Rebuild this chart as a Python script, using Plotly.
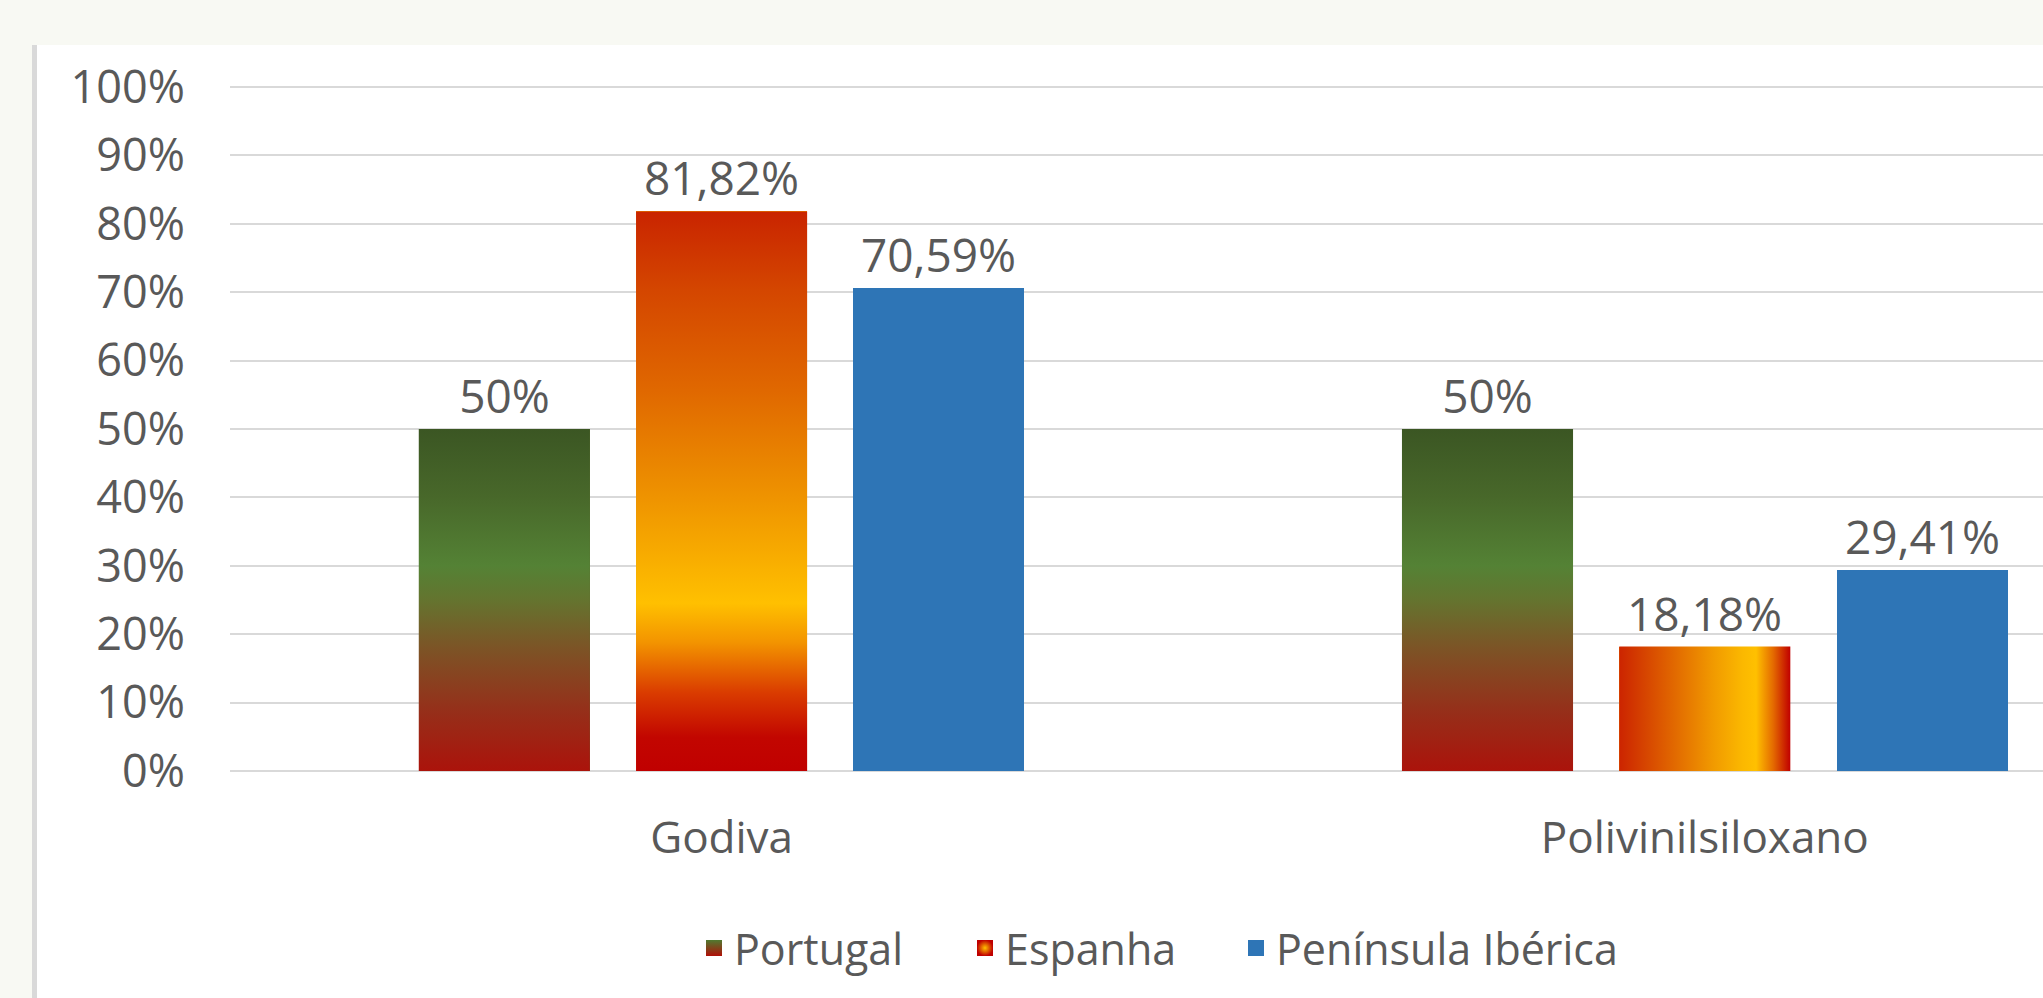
import plotly.graph_objects as go

# ---------------- data ----------------
categories = ["Godiva", "Polivinilsiloxano"]
series_names = ["Portugal", "Espanha", "Península Ibérica"]
portugal = [0.50, 0.50]
espanha = [0.8182, 0.1818]
peninsula = [0.7059, 0.2941]
labels_portugal = ["50%", "50%"]
labels_espanha = ["81,82%", "18,18%"]
labels_peninsula = ["70,59%", "29,41%"]
y_tick_values = [0, 0.1, 0.2, 0.3, 0.4, 0.5, 0.6, 0.7, 0.8, 0.9, 1.0]
y_tick_labels = ["0%", "10%", "20%", "30%", "40%", "50%", "60%", "70%", "80%", "90%", "100%"]

# ---------------- style ----------------
FONT = "Open Sans"
TXT = "#595959"
W, H = 2043, 998
ML, MR, MT, MB = 230, 0, 85, 225
slot = 0.221
bar_w = 0.174
offsets = [-slot, 0.0, slot]

cs_portugal = [[0.0, "#ab130b"], [0.18, "#95301a"], [0.36, "#7c5426"], [0.5, "#64742f"],
               [0.6, "#548235"], [0.8, "#48682a"], [1.0, "#3b5623"]]
cs_espanha_tall = [[0.0, "#c00000"], [0.06, "#c20600"], [0.14, "#da3c00"], [0.23, "#f39400"],
                   [0.30, "#ffc000"], [0.38, "#f8ad00"], [0.52, "#ec8c00"], [0.68, "#e06800"],
                   [0.86, "#d44600"], [1.0, "#c92400"]]
cs_espanha_short = [[0.0, "#cc2400"], [0.3, "#e06400"], [0.55, "#f19a00"], [0.72, "#fbb800"],
                    [0.8, "#ffc000"], [0.9, "#e46a00"], [1.0, "#c00000"]]
blue = "#2E75B6"

series_values = [portugal, espanha, peninsula]
series_labels = [labels_portugal, labels_espanha, labels_peninsula]
base_colors = ["#5a6a2c", "#ee9000", blue]
gradients = [
    [("vertical", cs_portugal), ("vertical", cs_portugal)],
    [("vertical", cs_espanha_tall), ("horizontal", cs_espanha_short)],
    [None, None],
]

fig = go.Figure()

# bars (positions from category index + series offset)
for s, name in enumerate(series_names):
    xs = [i + offsets[s] for i in range(len(categories))]
    fig.add_trace(go.Bar(
        x=xs, y=series_values[s], width=bar_w, name=name,
        marker=dict(color=base_colors[s], line=dict(width=0)),
        text=series_labels[s], textposition="outside", cliponaxis=False,
        constraintext="none",
        textfont=dict(family=FONT, size=46, color=TXT),
        showlegend=False, hoverinfo="skip",
    ))

# gradient overlays on the bars
for s in range(len(series_names)):
    for i, v in enumerate(series_values[s]):
        g = gradients[s][i]
        if g is None:
            continue
        xc = i + offsets[s]
        x0, x1 = xc - bar_w / 2, xc + bar_w / 2
        fig.add_trace(go.Scatter(
            x=[x0, x1, x1, x0, x0], y=[0, 0, v, v, 0],
            fill="toself", mode="none",
            fillgradient=dict(type=g[0], colorscale=g[1]),
            showlegend=False, hoverinfo="skip",
        ))

# background panel helpers
pw = W - ML - MR
ph = H - MT - MB
def px_x(p):
    return (p - ML) / pw
def px_y(p):
    return (H - MB - p) / ph

# legend entries (one legend each, to place them like the original)
legend_markers = [
    dict(color="#4f7a30", gradient=dict(type="vertical", color="#b01008")),
    dict(color="#c00000", gradient=dict(type="radial", color="#ffc000")),
    dict(color=blue),
]
legend_ids = ["legend", "legend2", "legend3"]
legend_x_px = [694, 965, 1236]
for s, name in enumerate(series_names):
    m = dict(symbol="square", size=27, line=dict(width=0))
    m.update(legend_markers[s])
    fig.add_trace(go.Scatter(x=[None], y=[None], mode="markers", name=name,
                             marker=m, showlegend=True, hoverinfo="skip",
                             legend=legend_ids[s]))

legend_common = dict(orientation="h", xanchor="left", y=px_y(948), yanchor="middle",
                     font=dict(family=FONT, size=43, color=TXT), bgcolor="rgba(0,0,0,0)",
                     itemclick=False, itemdoubleclick=False)
legend_layout = {}
for s, lid in enumerate(legend_ids):
    d = dict(legend_common)
    d["x"] = px_x(legend_x_px[s])
    legend_layout[lid] = d

fig.add_shape(type="rect", xref="paper", yref="paper", layer="below",
              x0=px_x(37), x1=1.02, y0=-0.5, y1=px_y(45),
              fillcolor="white", line=dict(width=0))
fig.add_shape(type="rect", xref="paper", yref="paper", layer="below",
              x0=px_x(32), x1=px_x(37), y0=-0.5, y1=px_y(45),
              fillcolor="#d9d9d9", line=dict(width=0))

fig.update_layout(
    width=W, height=H,
    margin=dict(l=ML, r=MR, t=MT, b=MB, pad=0),
    paper_bgcolor="#f8f9f3",
    plot_bgcolor="rgba(0,0,0,0)",
    font=dict(family=FONT, size=42, color=TXT),
    showlegend=True,
    xaxis=dict(range=[-0.5, 1.344], tickvals=list(range(len(categories))), ticktext=categories,
               showgrid=False, zeroline=False, showline=False, ticks="",
               ticklabelstandoff=35, tickfont=dict(family=FONT, size=44, color=TXT), fixedrange=True),
    yaxis=dict(range=[-0.003, 1.003], tickvals=y_tick_values, ticktext=y_tick_labels,
               showgrid=True, gridcolor="#d9d9d9", gridwidth=2, zeroline=False, showline=False,
               ticks="", ticklabelstandoff=44, tickfont=dict(family=FONT, size=45, color=TXT),
               fixedrange=True),
    bargap=0, barmode="overlay",
    **legend_layout,
)

fig.write_html("out.html", config={"displayModeBar": False},
               post_script="document.body.style.margin='0';document.body.style.overflow='hidden';")
